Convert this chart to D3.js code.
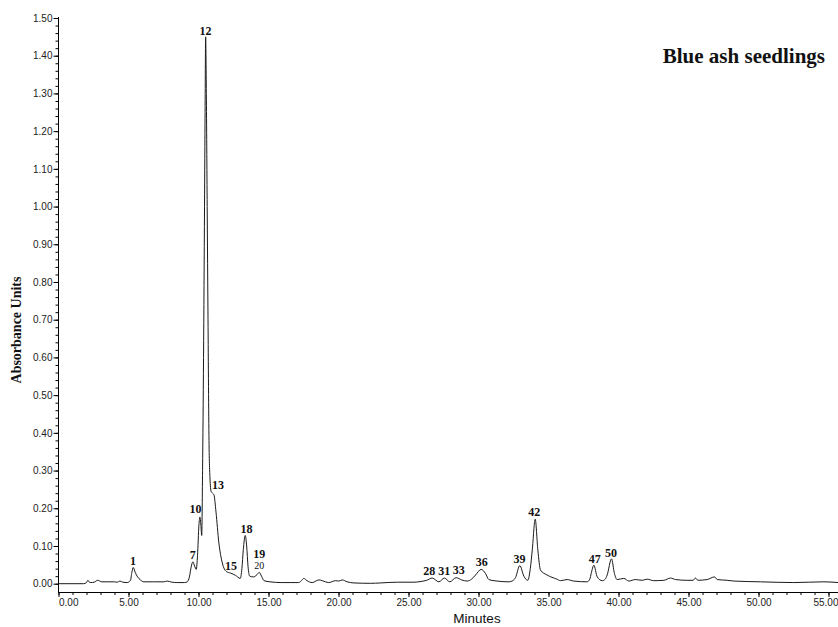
<!DOCTYPE html>
<html>
<head>
<meta charset="utf-8">
<script src="https://cdn.jsdelivr.net/npm/d3@7"></script>
<style>
  body { margin: 0; background: #fff; }
  svg { display: block; }
  .tick text { font-family: "Liberation Sans", Arial, sans-serif; font-size: 10px; fill: #222; }
</style>
</head>
<body>
<svg id="chart" width="838" height="627"></svg>
<script>
// retention time (min) and absorbance
const minutes = [
  0.0, 1.8, 2.0, 2.1, 2.2, 2.3, 2.55, 2.8, 3.1, 3.6, 3.95, 4.2, 4.38, 4.6, 4.9,
  5.14, 5.24, 5.34, 5.48, 5.65, 5.85, 6.1, 6.8, 7.52, 7.76, 8.1, 8.48, 9.0, 9.2,
  9.35, 9.48, 9.6, 9.72, 9.84, 9.93, 10.03, 10.1, 10.17, 10.23, 10.29, 10.36,
  10.43, 10.47, 10.51, 10.56, 10.62, 10.68, 10.75, 10.82, 10.9, 11.0, 11.1, 11.25,
  11.45, 11.7, 12.0, 12.3, 12.65, 12.98, 13.1, 13.2, 13.34, 13.44, 13.54, 13.66,
  13.92, 14.18, 14.34, 14.5, 14.68, 15.1, 15.9, 16.6, 17.16, 17.35, 17.52, 17.75,
  18.12, 18.6, 19.07, 19.3, 19.79, 20.02, 20.26, 20.62, 21.1, 22.3, 23.0, 24.2,
  25.4, 25.9, 26.3, 26.69, 27.17, 27.57, 27.95, 28.4, 28.8, 29.19, 29.5, 29.79,
  30.19, 30.5, 30.74, 31.33, 32.16, 32.45, 32.64, 32.95, 33.24, 33.52, 33.7, 33.84,
  34.05, 34.24, 34.43, 34.9, 35.6, 35.86, 36.33, 36.8, 37.76, 37.95, 38.05, 38.24,
  38.48, 38.84, 39.05, 39.19, 39.5, 39.71, 39.9, 40.38, 40.74, 41.2, 41.69, 42.05,
  42.52, 43.24, 43.71, 44.07, 44.9, 45.33, 45.5, 45.67, 46.33, 46.86, 47.05, 47.76,
  48.24, 50.14, 52.52, 54.67, 55.7
];
const absorbance = [
  0.0, 0.0, 0.003, 0.009, 0.004, 0.003, 0.004, 0.009, 0.005, 0.005, 0.005, 0.004, 0.007, 0.004, 0.003,
  0.009, 0.03, 0.043, 0.03, 0.018, 0.01, 0.005, 0.005, 0.005, 0.007, 0.004, 0.003, 0.003, 0.005,
  0.018, 0.045, 0.058, 0.047, 0.038, 0.075, 0.155, 0.177, 0.155, 0.128, 0.3, 0.6,
  1.0, 1.25, 1.45, 1.3, 1.0, 0.7, 0.38, 0.28, 0.245, 0.24, 0.236, 0.19,
  0.11, 0.055, 0.032, 0.028, 0.022, 0.014, 0.04, 0.09, 0.128, 0.1, 0.045, 0.02,
  0.018, 0.024, 0.03, 0.02, 0.008, 0.005, 0.003, 0.003, 0.003, 0.008, 0.014, 0.008,
  0.003, 0.01, 0.005, 0.003, 0.008, 0.007, 0.01, 0.005, 0.002, 0.001, 0.002, 0.004,
  0.004, 0.006, 0.009, 0.015, 0.005, 0.015, 0.005, 0.016, 0.01, 0.007, 0.012, 0.023,
  0.038, 0.027, 0.011, 0.007, 0.005, 0.008, 0.016, 0.048, 0.02, 0.009, 0.04, 0.089,
  0.171, 0.089, 0.036, 0.023, 0.012, 0.008, 0.011, 0.007, 0.005, 0.012, 0.027, 0.049,
  0.018, 0.008, 0.012, 0.023, 0.066, 0.027, 0.011, 0.014, 0.007, 0.011, 0.009, 0.012,
  0.008, 0.009, 0.015, 0.011, 0.009, 0.009, 0.015, 0.009, 0.011, 0.018, 0.011, 0.009,
  0.007, 0.005, 0.003, 0.005, 0.003
];

// peak numbers with the spot (time, absorbance) where each label sits
const peakNames = ["1", "7", "10", "12", "13", "15", "18", "19", "28", "31", "33", "36", "39", "42", "47", "50"];
const peakTimes = [5.32, 9.59, 9.79, 10.5, 11.39, 12.32, 13.43, 14.34, 26.48, 27.55, 28.59, 30.23, 32.93, 33.98, 38.3, 39.46];
const peakLevels = [0.05, 0.065, 0.187, 1.456, 0.251, 0.036, 0.135, 0.069, 0.022, 0.022, 0.025, 0.047, 0.056, 0.179, 0.054, 0.072];
const subNames = ["20"];
const subTimes = [14.34];
const subLevels = [0.039];

const xTicks = d3.range(0, 56, 5);
const xMinor = d3.range(0, 56, 1);
const yTicks = d3.range(0, 1.51, 0.1);
const yMinor = d3.range(0, 1.51, 0.02);

const svg = d3.select("#chart");
const W = 838;
const axisY = 592;

const x = d3.scaleLinear().domain([0, 55]).range([58.5, 828.5]);
const y = d3.scaleLinear().domain([0, 1.5]).range([583.7, 18]);

// x axis
svg.append("g")
  .attr("transform", `translate(0,${axisY})`)
  .call(d3.axisBottom(x).tickValues(xMinor).tickSize(3).tickFormat(""))
  .call(g => g.select(".domain").remove());

const xAxis = svg.append("g")
  .attr("transform", `translate(0,${axisY})`)
  .call(d3.axisBottom(x).tickValues(xTicks).tickSize(5).tickPadding(2).tickFormat(d3.format(".2f")))
  .call(g => g.select(".domain").remove());
xAxis.selectAll(".tick text").filter(d => d === 0).attr("text-anchor", "start");
xAxis.selectAll(".tick text").filter(d => d === 55).attr("text-anchor", "end").attr("x", W - x(55));

svg.append("line")
  .attr("x1", x(0)).attr("x2", W)
  .attr("y1", axisY + 0.5).attr("y2", axisY + 0.5)
  .attr("stroke", "#000");

// y axis
svg.append("g")
  .attr("transform", `translate(${x(0)},0)`)
  .call(d3.axisLeft(y).tickValues(yMinor).tickSize(3).tickFormat(""))
  .call(g => g.select(".domain").remove());

svg.append("g")
  .attr("transform", `translate(${x(0)},0)`)
  .call(d3.axisLeft(y).tickValues(yTicks).tickSize(5).tickPadding(1).tickFormat(d3.format(".2f")))
  .call(g => g.select(".domain").remove());

svg.append("line")
  .attr("x1", x(0)).attr("x2", x(0))
  .attr("y1", y(1.5) - 1).attr("y2", axisY + 1)
  .attr("stroke", "#000");

// trace
const line = d3.line()
  .x(i => x(minutes[i]))
  .y(i => y(absorbance[i]))
  .curve(d3.curveMonotoneX);

svg.append("path")
  .datum(d3.range(minutes.length))
  .attr("fill", "none")
  .attr("stroke", "#1a1a1a")
  .attr("stroke-width", 1)
  .attr("d", line);

// peak labels
svg.selectAll(".peak")
  .data(peakNames)
  .enter()
  .append("text")
  .attr("class", "peak")
  .attr("x", (d, i) => x(peakTimes[i]))
  .attr("y", (d, i) => y(peakLevels[i]))
  .attr("text-anchor", "middle")
  .attr("font-family", "'Liberation Serif', 'Times New Roman', serif")
  .attr("font-weight", "bold")
  .attr("font-size", "12px")
  .attr("fill", "#111")
  .text(d => d);

svg.selectAll(".sub")
  .data(subNames)
  .enter()
  .append("text")
  .attr("class", "sub")
  .attr("x", (d, i) => x(subTimes[i]))
  .attr("y", (d, i) => y(subLevels[i]))
  .attr("text-anchor", "middle")
  .attr("font-family", "'Liberation Serif', 'Times New Roman', serif")
  .attr("font-size", "10px")
  .attr("fill", "#111")
  .text(d => d);

// titles
svg.append("text")
  .attr("x", 825)
  .attr("y", 62.5)
  .attr("text-anchor", "end")
  .attr("font-family", "'Liberation Serif', 'Times New Roman', serif")
  .attr("font-weight", "bold")
  .attr("font-size", "21px")
  .attr("fill", "#111")
  .text("Blue ash seedlings");

svg.append("text")
  .attr("x", 477)
  .attr("y", 623)
  .attr("text-anchor", "middle")
  .attr("font-family", "'Liberation Sans', Arial, sans-serif")
  .attr("font-size", "13.5px")
  .attr("fill", "#111")
  .text("Minutes");

svg.append("text")
  .attr("transform", "translate(21,330) rotate(-90)")
  .attr("text-anchor", "middle")
  .attr("font-family", "'Liberation Serif', 'Times New Roman', serif")
  .attr("font-weight", "bold")
  .attr("font-size", "14px")
  .attr("fill", "#111")
  .text("Absorbance Units");
</script>
</body>
</html>
